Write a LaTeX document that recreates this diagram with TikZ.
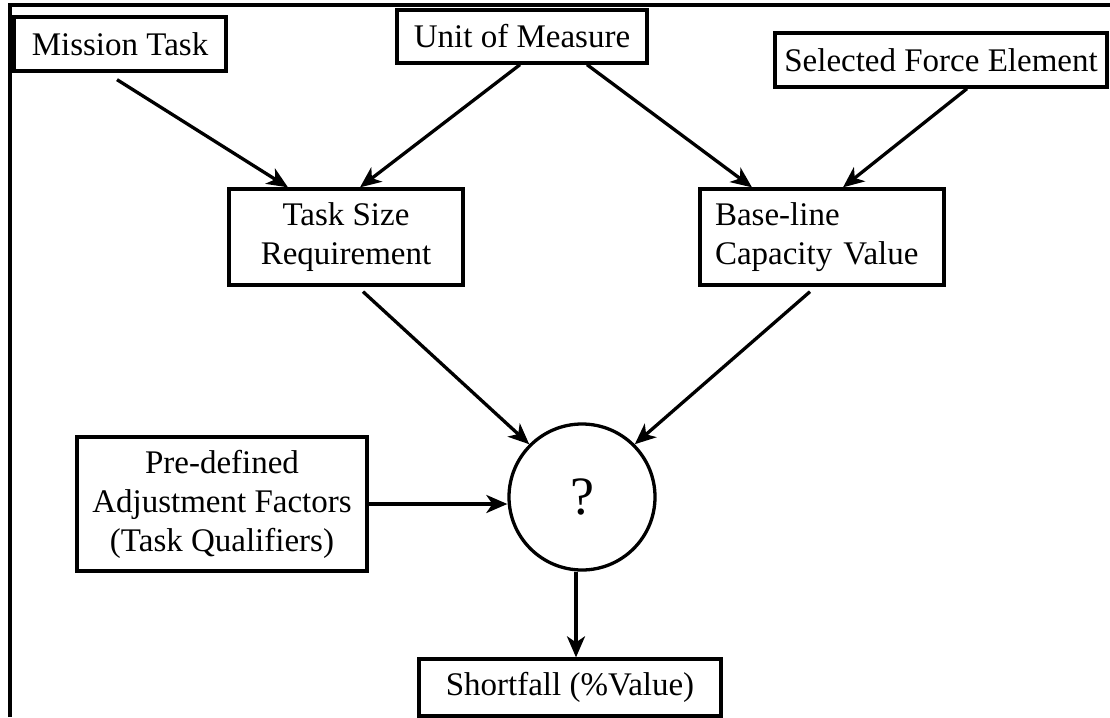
\documentclass[tikz,border=0pt]{standalone}
\usepackage{fontspec}
\setmainfont{Liberation Serif}
\usetikzlibrary{arrows.meta,calc}
\begin{document}
\begin{tikzpicture}[x=1pt,y=-1pt,
  box/.style={draw,line width=3.3pt,inner sep=0pt,align=center,font=\fontsize{33}{39}\selectfont},
  arr/.style={line width=3.3pt,-{Stealth[length=21pt,width=18pt,inset=6pt]}}]
\useasboundingbox (0,0) rectangle (1110,717);
\draw[line width=3.3pt] (10,717) -- (10,5) -- (1110,5);
\node[box,minimum width=212,minimum height=54] (mt) at (120,44) {Mission Task};
\node[box,minimum width=250,minimum height=53] (uom) at (522,36.5) {Unit of Measure};
\node[box,minimum width=332,minimum height=54] (sfe) at (941,60) {Selected Force Element};
\node[box,minimum width=234,minimum height=96] (tsr) at (346,237) {Task Size\\Requirement};
\node[box,inner xsep=15pt,text width=214,align=left,minimum height=96] (bcv) at (822,237) {Base-line\\Capacity Value};
\node[box,minimum width=290,minimum height=134] (paf) at (222,504) {Pre-defined\\Adjustment Factors\\(Task Qualifiers)};
\node[box,circle,minimum size=146,font=\fontsize{54}{60}\selectfont] (circ) at (582,497) {?};
\node[box,minimum width=302,minimum height=57] (sf) at (570,687.5) {Shortfall (\%Value)};
\draw[arr] ($(mt.south)+(-3,7)$) -- ($(tsr.north)+(-58,0)$);
\draw[arr] ($(uom.south)+(-2,0)$) -- ($(tsr.north)+(14,0)$);
\draw[arr] ($(uom.south)+(65,0)$) -- ($(bcv.north)+(-70,0)$);
\draw[arr] ($(sfe.south)+(26,0)$) -- ($(bcv.north)+(21,0)$);
\draw[arr] ($(tsr.south)+(17,5)$) -- (circ.135);
\draw[arr] ($(bcv.south)+(-12,5)$) -- (circ.45);
\draw[arr] (paf.east) -- (paf.east -| circ.west);
\draw[arr] ($(circ.south)+(-6,0)$) -- ($(sf.north)+(6,0)$);
\end{tikzpicture}
\end{document}
